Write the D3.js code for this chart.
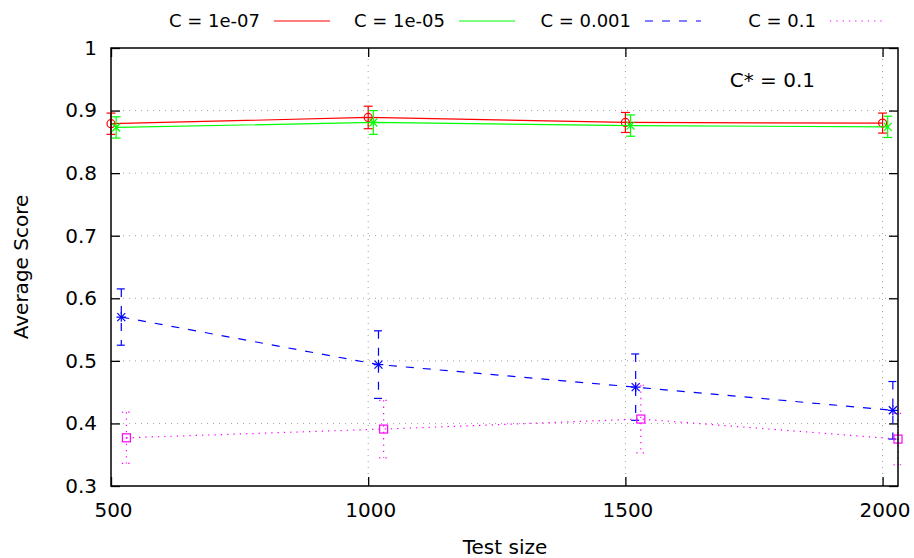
<!DOCTYPE html>
<html>
<head>
<meta charset="utf-8">
<script src="https://cdn.jsdelivr.net/npm/d3@7"></script>
<style>
body { margin: 0; background: #fff; }
text { font-family: "DejaVu Sans", sans-serif; fill: #000; }
</style>
</head>
<body>
<div id="chart"></div>
<script>
// test sizes, each series is shifted a little so the bars do not overlap
var testSizes = [500, 1000, 1500, 2000];
var xRed = [500, 1000, 1500, 2000];
var xGreen = [510, 1010, 1510, 2010];
var xBlue = [520, 1020, 1520, 2020];
var xMagenta = [530, 1030, 1530, 2030];

var scoreRed = [0.879, 0.889, 0.881, 0.880];
var errRed = [0.017, 0.018, 0.016, 0.016];
var scoreGreen = [0.873, 0.881, 0.876, 0.874];
var errGreen = [0.017, 0.019, 0.017, 0.017];
var scoreBlue = [0.570, 0.494, 0.458, 0.421];
var errBlue = [0.045, 0.054, 0.053, 0.046];
var scoreMagenta = [0.377, 0.391, 0.407, 0.375];
var errMagenta = [0.041, 0.046, 0.054, 0.041];

var seriesNames = ["C = 1e-07", "C = 1e-05", "C = 0.001", "C = 0.1"];
var yTicks = [0.3, 0.4, 0.5, 0.6, 0.7, 0.8, 0.9, 1];

var series = [
	{name: seriesNames[0], xs: xRed, ys: scoreRed, es: errRed, color: "#ff0000", dash: null, sym: "circle"},
	{name: seriesNames[1], xs: xGreen, ys: scoreGreen, es: errGreen, color: "#00ff00", dash: null, sym: "x"},
	{name: seriesNames[2], xs: xBlue, ys: scoreBlue, es: errBlue, color: "#0000ff", dash: "8,9", sym: "star"},
	{name: seriesNames[3], xs: xMagenta, ys: scoreMagenta, es: errMagenta, color: "#ff00ff", dash: "1.3,5", sym: "square"}
];

var width = 914, height = 558;
var margin = {left: 111, right: 16, top: 48, bottom: 72};

var svg = d3.select("#chart").append("svg").attr("width", width).attr("height", height);

var x = d3.scaleLinear().domain([500, 2030]).range([margin.left, width - margin.right]);
var y = d3.scaleLinear().domain([0.3, 1]).range([height - margin.bottom, margin.top]);

var x0 = x.range()[0], x1 = x.range()[1], y0 = y.range()[0], y1 = y.range()[1];

// grid
var grid = svg.append("g").attr("stroke", "#a0a0a0").attr("stroke-width", 1).attr("stroke-dasharray", "1,5");
grid.selectAll(".gy").data(yTicks.slice(1, -1)).enter().append("line")
	.attr("x1", x0).attr("x2", x1)
	.attr("y1", function(d){ return y(d); }).attr("y2", function(d){ return y(d); });
grid.selectAll(".gx").data(testSizes.slice(1)).enter().append("line")
	.attr("y1", y0).attr("y2", y1)
	.attr("x1", function(d){ return x(d); }).attr("x2", function(d){ return x(d); });

// axes, ticks pointing inward and mirrored like gnuplot
var tickLen = 9;
var axLeft = svg.append("g").attr("transform", "translate(" + x0 + ",0)")
	.call(d3.axisLeft(y).tickValues(yTicks).tickSize(-tickLen).tickPadding(14).tickFormat(d3.format("")));
var axRight = svg.append("g").attr("transform", "translate(" + x1 + ",0)")
	.call(d3.axisRight(y).tickValues(yTicks).tickSize(-tickLen).tickFormat(""));
var axBottom = svg.append("g").attr("transform", "translate(0," + y0 + ")")
	.call(d3.axisBottom(x).tickValues(testSizes).tickSize(-tickLen).tickPadding(17).tickFormat(d3.format("d")));
var axTop = svg.append("g").attr("transform", "translate(0," + y1 + ")")
	.call(d3.axisTop(x).tickValues(testSizes).tickSize(-tickLen).tickFormat(""));

[axLeft, axRight, axBottom, axTop].forEach(function(g){
	g.select(".domain").remove();
	g.selectAll(".tick line").attr("stroke", "#000").attr("stroke-width", 1.3);
	g.selectAll("text").style("font-size", "20px").attr("fill", "#000")
		.style("font-family", "DejaVu Sans, sans-serif");
});
axBottom.selectAll("text").attr("dx", 2);

// series
var line = d3.line();
series.forEach(function(s){
	var g = svg.append("g").attr("stroke", s.color).attr("fill", "none").attr("stroke-width", 1.2);
	if (s.dash) g.attr("stroke-dasharray", s.dash);
	var pts = s.xs.map(function(v, i){ return [x(v), y(s.ys[i])]; });
	g.append("path").attr("d", line(pts));

	// error bars
	s.xs.forEach(function(v, i){
		var cx = x(v), hi = y(s.ys[i] + s.es[i]), lo = y(s.ys[i] - s.es[i]);
		g.append("line").attr("x1", cx).attr("x2", cx).attr("y1", hi).attr("y2", lo);
		g.append("line").attr("x1", cx - 4.5).attr("x2", cx + 4.5).attr("y1", hi).attr("y2", hi);
		g.append("line").attr("x1", cx - 4.5).attr("x2", cx + 4.5).attr("y1", lo).attr("y2", lo);
	});

	// point symbols, solid
	var p = svg.append("g").attr("stroke", s.color).attr("fill", "none").attr("stroke-width", 1.2);
	pts.forEach(function(c){
		var r = 4;
		if (s.sym == "circle") {
			p.append("circle").attr("cx", c[0]).attr("cy", c[1]).attr("r", r);
		} else if (s.sym == "square") {
			p.append("rect").attr("x", c[0] - r).attr("y", c[1] - r).attr("width", 2 * r).attr("height", 2 * r);
		} else {
			p.append("path").attr("d", "M" + (c[0]-r) + "," + (c[1]-r) + "L" + (c[0]+r) + "," + (c[1]+r) +
				"M" + (c[0]-r) + "," + (c[1]+r) + "L" + (c[0]+r) + "," + (c[1]-r));
			if (s.sym == "star") {
				p.append("path").attr("d", "M" + (c[0]-r*1.2) + "," + c[1] + "L" + (c[0]+r*1.2) + "," + c[1] +
					"M" + c[0] + "," + (c[1]-r*1.2) + "L" + c[0] + "," + (c[1]+r*1.2));
			}
		}
	});
});

// border
svg.append("rect").attr("x", x0).attr("y", y1).attr("width", x1 - x0).attr("height", y0 - y1)
	.attr("fill", "none").attr("stroke", "#000").attr("stroke-width", 1.5);

// legend
var legendStart = [274, 459, 645, 830];
series.forEach(function(s, i){
	var lx = legendStart[i];
	svg.append("text").attr("x", lx - 14).attr("y", 21).attr("dy", "0.35em")
		.attr("text-anchor", "end").style("font-size", "18px").text(s.name);
	var l = svg.append("line").attr("x1", lx).attr("x2", lx + 56).attr("y1", 21).attr("y2", 21)
		.attr("stroke", s.color).attr("stroke-width", 1.2);
	if (s.dash) l.attr("stroke-dasharray", s.dash);
});

// labels
svg.append("text").attr("x", 815).attr("y", 80).attr("dy", "0.35em").attr("text-anchor", "end")
	.style("font-size", "20px").text("C* = 0.1");
svg.append("text").attr("x", 505).attr("y", 554).attr("text-anchor", "middle")
	.style("font-size", "20px").text("Test size");
svg.append("text").attr("transform", "translate(28,267) rotate(-90)").attr("text-anchor", "middle")
	.style("font-size", "20px").text("Average Score");
</script>
</body>
</html>
